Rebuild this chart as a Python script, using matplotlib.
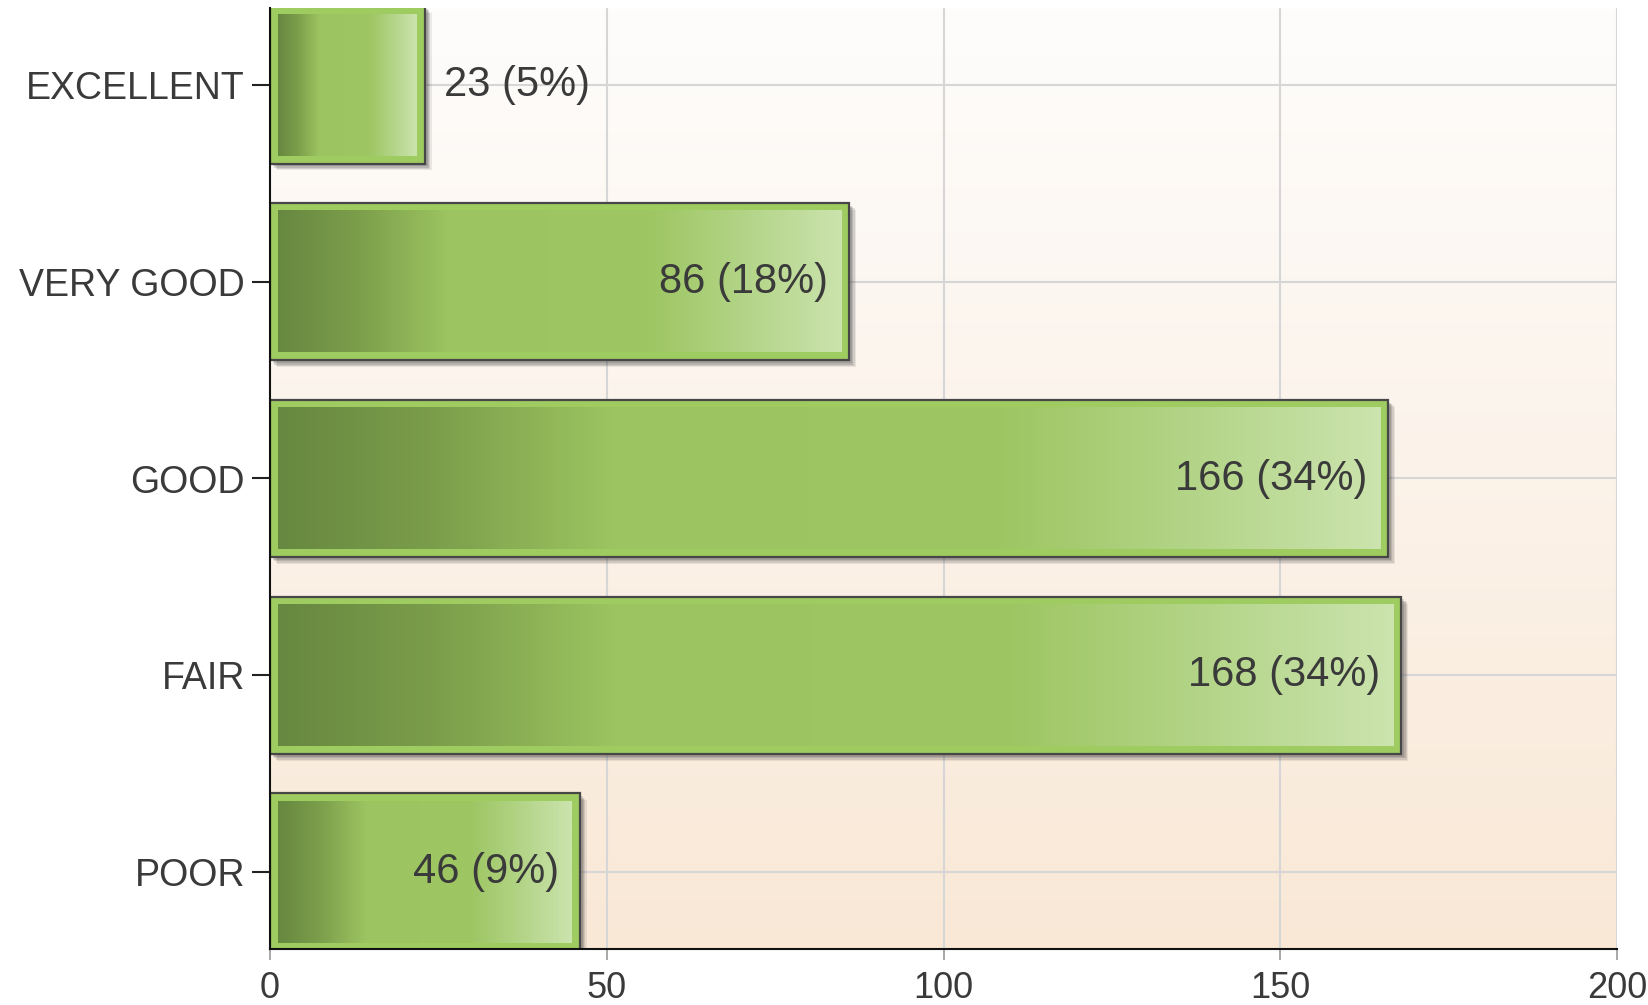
import numpy as np
import matplotlib
matplotlib.use("Agg")
import matplotlib.pyplot as plt
from matplotlib import patheffects as pe
from matplotlib.colors import LinearSegmentedColormap

# data
categories = ["EXCELLENT", "VERY GOOD", "GOOD", "FAIR", "POOR"]
counts = [23, 86, 166, 168, 46]
xticks = [0, 50, 100, 150, 200]

total = sum(counts)
labels = [f"{c} ({round(100 * c / total)}%)" for c in counts]

plt.rcParams["font.family"] = ["Liberation Sans", "DejaVu Sans"]

W, H, DPI = 1648, 1005, 100
fig = plt.figure(figsize=(W / DPI, H / DPI), dpi=DPI)
ax = fig.add_axes([270 / W, 1 - 949 / H, (1617 - 270) / W, (949 - 8) / H])

xmax = 200
ax.set_xlim(0, xmax)
ax.set_ylim(4.39, -0.39)

# background gradient (near white top -> peach bottom)
bg = LinearSegmentedColormap.from_list("bg", ["#fefdfc", "#f9e8d6"])
ax.imshow(np.linspace(0, 1, 256).reshape(-1, 1), cmap=bg, aspect="auto",
          extent=[0, 1, 0, 1], transform=ax.transAxes, zorder=0, origin="upper")

# grid
for xv in xticks[1:]:
    ax.axvline(xv, color="#d6d6d6", lw=1.5, zorder=1)
for i in range(len(categories)):
    ax.axhline(i, color="#d6d6d6", lw=1.5, zorder=1)

# bars
bar_h = 0.8
grad = LinearSegmentedColormap.from_list(
    "bar", [(0.0, "#678840"), (0.14, "#7b9e4b"), (0.30, "#9cc460"),
            (0.66, "#9ec663"), (0.80, "#afd281"), (1.0, "#cbe3ad")])
px_x = (1617 - 270) / xmax
px_y = (949 - 8) / 4.78
ix, iy = 8 / px_x, 8 / px_y
y = np.arange(len(categories))
bars = ax.barh(y, counts, height=bar_h, color="#9fcc60", edgecolor="#474747",
               linewidth=1.6, zorder=3)
shadow = [pe.SimplePatchShadow(offset=(o, -o), shadow_rgbFace="#444444", alpha=a)
          for o, a in [(5, 0.10), (4, 0.14), (3, 0.18), (2, 0.2)]]
for b in bars:
    b.set_path_effects(shadow + [pe.Normal()])
for yi, c in zip(y, counts):
    ax.imshow(np.linspace(0, 1, 256).reshape(1, -1), cmap=grad, aspect="auto",
              interpolation="bilinear",
              extent=[ix, c - ix, yi + bar_h / 2 - iy, yi - bar_h / 2 + iy], zorder=4)

# value labels
for yi, c, lab in zip(y, counts, labels):
    if c < 30:
        ax.annotate(lab, (c, yi), xytext=(14, 0), textcoords="offset points",
                    ha="left", va="center", fontsize=30, color="#3a3a3a", zorder=5)
    else:
        ax.annotate(lab, (c, yi), xytext=(-15, 0), textcoords="offset points",
                    ha="right", va="center", fontsize=30, color="#3a3a3a", zorder=5)

ax.set_yticks(y)
ax.set_yticklabels(categories)
ax.set_xticks(xticks)
ax.tick_params(axis="y", length=13, width=1.5, color="#222222", labelsize=27,
               labelcolor="#3a3a3a", pad=5)
ax.tick_params(axis="x", length=8, width=1.2, color="#999999", labelsize=26,
               labelcolor="#3a3a3a", pad=8)
for s in ["top", "right"]:
    ax.spines[s].set_visible(False)
for s in ["left", "bottom"]:
    ax.spines[s].set_color("#111111")
    ax.spines[s].set_linewidth(1.5)
    ax.spines[s].set_zorder(6)

fig.savefig("out.png", dpi=DPI, facecolor="white")
